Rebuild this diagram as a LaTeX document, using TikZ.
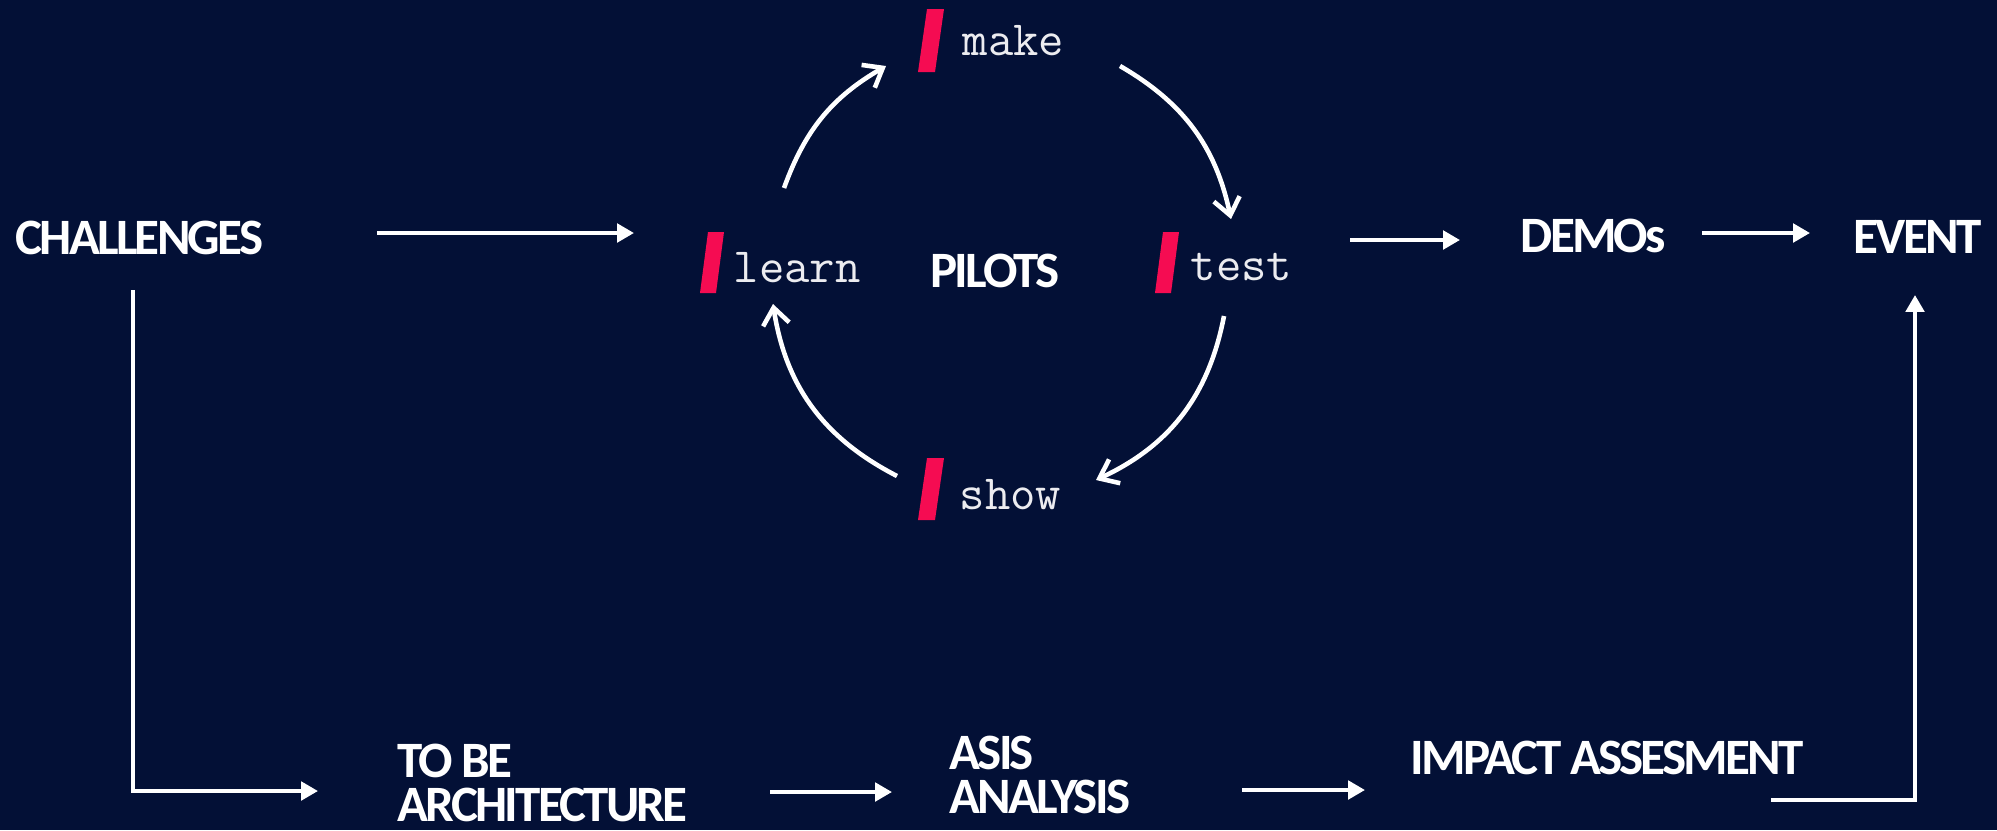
\documentclass[tikz,border=0pt]{standalone}
\usepackage{fontspec}
\usetikzlibrary{arrows.meta}
\newfontfamily\hdfont[LetterSpace=-5.5]{Carlito}
\definecolor{bgnavy}{RGB}{3,16,54}
\definecolor{slashpink}{RGB}{245,12,82}
\definecolor{monowhite}{RGB}{236,236,240}
\begin{document}
\begin{tikzpicture}[x=0.01cm,y=0.01cm,
  hd/.style={font=\hdfont\bfseries\fontsize{14.5}{12.6}\selectfont, text=white, inner sep=0pt},
  monolabel/.style={font=\ttfamily\fontsize{14}{16}\selectfont, text=monowhite, inner sep=0pt, anchor=base west},
  flow/.style={draw=white, line width=1.15pt, -{Triangle[length=4.8pt,width=5.2pt]}},
  cyc/.style={draw=white, line width=1.3pt, -{Straight Barb[length=4.8pt,width=7.5pt]}},
  slashmark/.style={fill=slashpink}]
\fill[bgnavy] (0,0) rectangle (1997,-830);
\useasboundingbox (0,0) rectangle (1997,-830);

% pink slashes
\fill[slashmark] (927,-9) -- (944,-9) -- (935,-72) -- (918,-72) -- cycle;
\fill[slashmark] (708,-232) -- (724,-232) -- (716,-293) -- (700,-293) -- cycle;
\fill[slashmark] (1163,-232) -- (1179,-232) -- (1171,-293) -- (1155,-293) -- cycle;
\fill[slashmark] (927,-458) -- (944,-458) -- (935,-520) -- (918,-520) -- cycle;

% cycle labels
\node[monolabel] (make) at (962,-55) {make};
\node[monolabel] (learn) at (733,-282) {learn};
\node[monolabel] (test) at (1190,-280) {test};
\node[monolabel] (show) at (959,-509) {show};

% headings
\node[hd, anchor=west] (ch) at (15,-238) {CHALLENGES};
\node[hd] (pilots) at (995,-271) {PILOTS};
\node[hd, anchor=west] (demos) at (1520,-236) {DEMOs};
\node[hd, anchor=west] (event) at (1853,-237) {EVENT};
\node[hd, anchor=north west, align=left] (tobe) at (397,-743) {TO BE\\ARCHITECTURE};
\node[hd, anchor=north west, align=left] (asis) at (949,-735) {ASIS\\ANALYSIS};
\node[hd, anchor=west] (impact) at (1410,-758) {IMPACT ASSESMENT};

% connector ends
\coordinate (chout) at (377,-233);
\coordinate (learnin) at (634,-233);
\coordinate (testout) at (1350,-240);
\coordinate (demosin) at (1460,-240);
\coordinate (demosout) at (1702,-233);
\coordinate (eventin) at (1810,-233);
\coordinate (chdown) at (133,-290);
\coordinate (tobein) at (318,-791);
\coordinate (tobeout) at (770,-792);
\coordinate (asisin) at (892,-792);
\coordinate (asisout) at (1242,-790);
\coordinate (impactin) at (1365,-790);
\coordinate (impactout) at (1771,-800);
\coordinate (eventbelow) at (1915,-295);

\draw[flow] (chout) -- (learnin);
\draw[flow] (testout) -- (demosin);
\draw[flow] (demosout) -- (eventin);
\draw[flow] (chdown) |- (tobein);
\draw[flow] (tobeout) -- (asisin);
\draw[flow] (asisout) -- (impactin);
\draw[flow] (impactout) -| (eventbelow);

% cycle arcs (circle centre (1003,-268), radius 233)
\coordinate (a1s) at (784,-188);
\coordinate (a1e) at (886,-66);
\coordinate (a2s) at (1120,-66);
\coordinate (a2e) at (1231,-219);
\coordinate (a3s) at (1224,-316);
\coordinate (a3e) at (1096,-480);
\coordinate (a4s) at (897,-476);
\coordinate (a4e) at (773,-304);
\draw[cyc] (a1s) to[bend left=20] (a1e);
\draw[cyc] (a2s) to[bend left=24] (a2e);
\draw[cyc] (a3s) to[bend left=27] (a3e);
\draw[cyc] (a4s) to[bend left=27] (a4e);
\end{tikzpicture}
\end{document}
